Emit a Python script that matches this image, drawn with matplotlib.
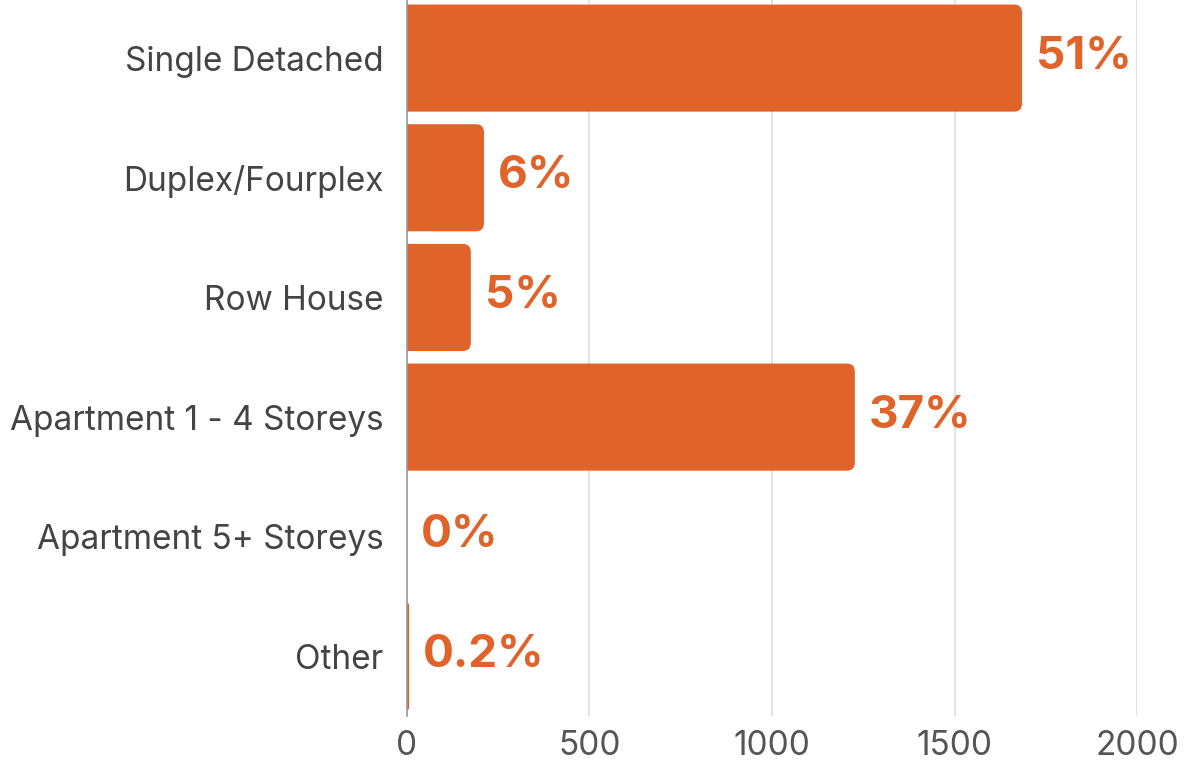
import matplotlib.pyplot as plt
from matplotlib.patches import FancyBboxPatch

categories = ['Single Detached', 'Duplex/Fourplex', 'Row House',
              'Apartment 1 - 4 Storeys', 'Apartment 5+ Storeys', 'Other']
counts = [1685, 211, 175, 1227, 0, 6]
pct_labels = ['51%', '6%', '5%', '37%', '0%', '0.2%']
xticks = [0, 500, 1000, 1500, 2000]

orange = '#E0632A'
plt.rcParams['font.family'] = ['Inter', 'DejaVu Sans']

fig = plt.figure(figsize=(11.92, 7.62), dpi=100)
ax = fig.add_axes([0.3414, 0.060, 0.6125, 0.9423])

ypos = list(range(len(categories)))
bars = ax.barh(ypos, counts, height=0.895, color=orange)
ax.set_xlim(0, 2000)
ax.set_ylim(len(categories) - 0.5, -0.5)

# swap plain rectangles for ones with rounded right corners
xunit = 2000 / 730.0
yunit = 1 / 119.7
for b in bars:
    w = b.get_width()
    if w <= 0:
        b.set_visible(False)
        continue
    r = min(8 * xunit, w)
    p = FancyBboxPatch((b.get_x() - r, b.get_y()), w + r, b.get_height(),
                       boxstyle='round,pad=0,rounding_size=%f' % r,
                       mutation_aspect=yunit / xunit,
                       facecolor=orange, edgecolor='none', clip_on=True)
    ax.add_patch(p)
    b.set_visible(False)

for y, v, lab in zip(ypos, counts, pct_labels):
    ax.annotate(lab, (v, y), xytext=(10, 1), textcoords='offset points',
                ha='left', va='center', fontsize=33, fontweight='bold',
                color=orange, clip_on=False)

ax.set_yticks(ypos)
ax.set_yticklabels(categories, fontsize=24, color='#444444')
ax.set_xticks(xticks)
ax.set_xticklabels([str(t) for t in xticks], fontsize=24, color='#555555')
ax.tick_params(length=0)
ax.tick_params(axis='y', pad=17)
ax.tick_params(axis='x', pad=10)

ax.grid(axis='x', color='#DDDDDD', linewidth=1.2)
ax.set_axisbelow(True)
for s in ['top', 'right', 'bottom']:
    ax.spines[s].set_visible(False)
ax.spines['left'].set_color('#999999')
ax.spines['left'].set_linewidth(1.2)

fig.savefig('out.png', dpi=100)
